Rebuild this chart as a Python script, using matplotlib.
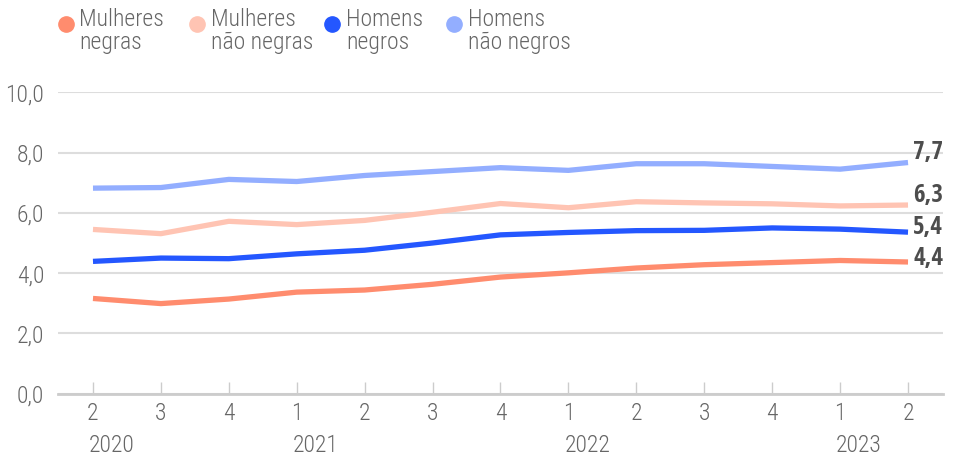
import matplotlib
matplotlib.use("Agg")
import matplotlib.pyplot as plt
from matplotlib.lines import Line2D
import matplotlib.transforms as mtransforms

LIGHT = ['Open Sans Condensed Light', 'Roboto Condensed', 'IBM Plex Sans Condensed', 'DejaVu Sans']
BOLD = ['Open Sans Condensed', 'Roboto Condensed', 'DejaVu Sans']
plt.rcParams['font.family'] = LIGHT
plt.rcParams['font.weight'] = 300

quarters = ["2", "3", "4", "1", "2", "3", "4", "1", "2", "3", "4", "1", "2"]
years = ["2020", "2021", "2022", "2023"]
year_start_idx = [0, 3, 7, 11]

series_names = ["Mulheres\nnegras", "Mulheres\nnão negras", "Homens\nnegros", "Homens\nnão negros"]
mulheres_negras = [3.16, 2.99, 3.14, 3.37, 3.44, 3.63, 3.87, 4.01, 4.17, 4.28, 4.35, 4.42, 4.37]
mulheres_nao_negras = [5.45, 5.31, 5.72, 5.61, 5.75, 6.02, 6.31, 6.17, 6.37, 6.33, 6.30, 6.23, 6.26]
homens_negros = [4.39, 4.50, 4.48, 4.64, 4.76, 5.00, 5.27, 5.35, 5.41, 5.42, 5.50, 5.46, 5.36]
homens_nao_negros = [6.82, 6.84, 7.11, 7.04, 7.24, 7.37, 7.50, 7.41, 7.63, 7.63, 7.54, 7.45, 7.67]
end_labels = ["4,4", "6,3", "5,4", "7,7"]

colors = ["#FF8C6E", "#FFC4B3", "#2457FF", "#93AEFF"]
series = [mulheres_negras, mulheres_nao_negras, homens_negros, homens_nao_negros]

W, H = 958, 459
fig = plt.figure(figsize=(W / 100, H / 100), dpi=100)
left, right, bottom, top = 58, 943, 393.7, 92.3
ax = fig.add_axes([left / W, 1 - bottom / H, (right - left) / W, (bottom - top) / H])

x = list(range(len(quarters)))
for s, c in zip(series, colors):
    ax.plot(x, s, color=c, lw=3.8, solid_capstyle='butt', zorder=3)

ax.set_xlim(-0.515, len(quarters) - 1 + 0.515)
ax.set_ylim(0, 10)
ax.set_yticks([0, 2, 4, 6, 8, 10])
ax.set_yticklabels(["0,0", "2,0", "4,0", "6,0", "8,0", "10,0"])
ax.yaxis.grid(True, color="#DDDDDD", lw=1.5, zorder=0)
ax.set_axisbelow(True)
for sp in ["top", "right", "left"]:
    ax.spines[sp].set_visible(False)
ax.spines["bottom"].set_color("#CCCCCC")
ax.spines["bottom"].set_linewidth(2)
ax.tick_params(axis='y', length=0, pad=10, labelsize=17, labelcolor="#666666")
ax.set_xticks(x)
ax.set_xticklabels(quarters)
ax.tick_params(axis='x', direction='in', length=9, width=1, color="#CCCCCC",
               pad=6, labelsize=17, labelcolor="#666666")

trans_year = mtransforms.blended_transform_factory(ax.transData, fig.transFigure)
for yr, idx in zip(years, year_start_idx):
    off = mtransforms.offset_copy(trans_year, fig=fig, x=-4, y=0, units='dots')
    ax.text(idx, 1 - 445 / H, yr, transform=off, ha='left', va='center',
            fontsize=17, color="#666666")

end_offsets = [3, 10, 5, 10]
for s, lab, dy in zip(series, end_labels, end_offsets):
    off = mtransforms.offset_copy(ax.transData, fig=fig, x=5, y=dy, units='dots')
    ax.text(x[-1], s[-1], lab, transform=off, ha='left', va='center',
            fontsize=18, fontweight='bold', family=BOLD, color="#4D4D4D", clip_on=False)

marker_x = [66, 197, 332, 454]
text_x = [79, 211, 346, 468]
for mx, tx, name, c in zip(marker_x, text_x, series_names, colors):
    fig.add_artist(Line2D([mx / W], [1 - 24 / H], marker='o', markersize=11,
                          color=c, transform=fig.transFigure, linestyle='none'))
    fig.text(tx / W, 1 - 8 / H, name, ha='left', va='top', fontsize=17,
             color="#666666", linespacing=1.0)

fig.savefig("out.png", dpi=100)
